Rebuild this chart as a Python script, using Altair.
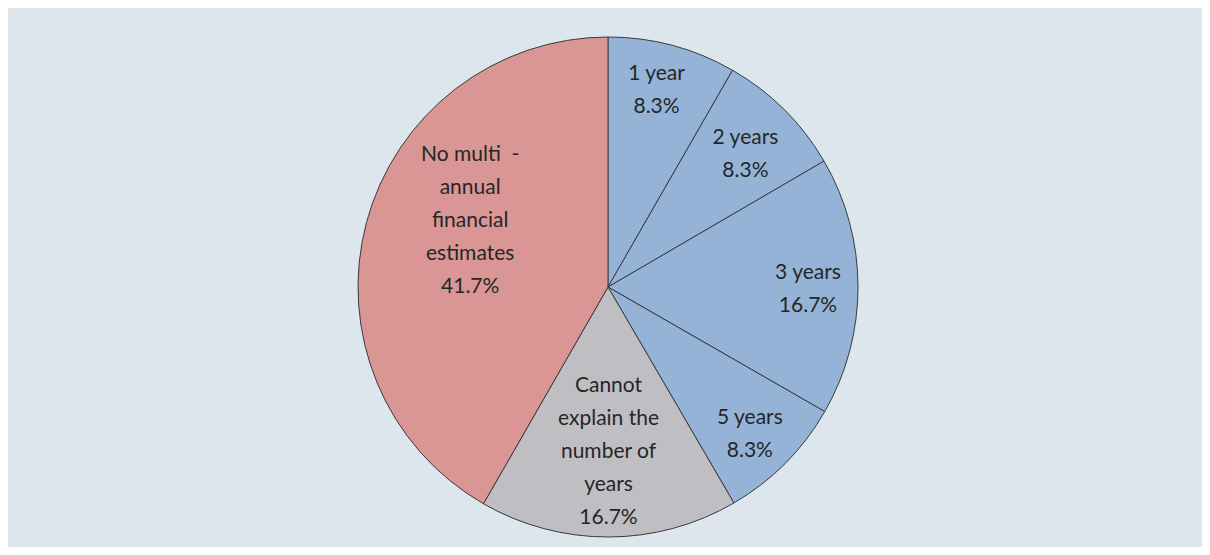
import altair as alt
import pandas as pd

categories = ["1 year", "2 years", "3 years", "5 years",
              "Cannot explain the number of years",
              "No multi-annual financial estimates"]
values = [8.3, 8.3, 16.7, 8.3, 16.7, 41.7]
labels = ["1 year\n8.3%", "2 years\n8.3%", "3 years\n16.7%", "5 years\n8.3%",
          "Cannot\nexplain the\nnumber of\nyears\n16.7%",
          "No multi\u00a0 -\nannual\nfinancial\nestimates\n41.7%"]
colors = ["#95b3d7", "#95b3d7", "#95b3d7", "#95b3d7", "#bfbfc3", "#d99694"]

df = pd.DataFrame({"category": categories, "value": values,
                   "label": labels, "order": list(range(len(categories)))})

CX, CY = 600, 279
LH = 33
tscale = alt.Scale(domain=[0, 100])

base = alt.Chart(df).transform_stack(
    stack="value", as_=["s0", "s1"], groupby=[],
    sort=[alt.SortField("order", order="ascending")],
).transform_calculate(mid="(datum.s0 + datum.s1) / 2")

pie = base.mark_arc(radius=250, stroke="#3a3a3a", strokeWidth=1).encode(
    theta=alt.Theta("s0:Q", scale=tscale, stack=None),
    theta2="s1:Q",
    x=alt.value(CX), y=alt.value(CY),
    color=alt.Color("category:N", scale=alt.Scale(domain=categories, range=colors),
                    legend=None),
)

txt_style = dict(font="Lato", fontSize=21, color="#262626", lineBreak="\n",
                 lineHeight=LH, align="center", baseline="middle")

def text_layer(cat, radius, nlines, dx=0, dy=0):
    return base.transform_filter(
        alt.FieldEqualPredicate(field="category", equal=cat)
    ).mark_text(radius=radius, dx=dx, dy=dy - (nlines - 1) / 2 * LH,
                **txt_style).encode(
        theta=alt.Theta("mid:Q", scale=tscale, stack=None),
        x=alt.value(CX), y=alt.value(CY), text="label:N",
    )

layers = [
    pie,
    text_layer(categories[0], 200, 2, dx=-3, dy=-3),
    text_layer(categories[1], 195, 2, dy=6),
    text_layer(categories[2], 200, 2, dy=3),
    text_layer(categories[3], 200, 2, dy=7),
    text_layer(categories[4], 164, 5, dy=1),
    text_layer(categories[5], 153, 5, dx=10, dy=-27),
]

chart = alt.layer(*layers).properties(
    width=1194, height=539, padding=0,
    autosize=alt.AutoSizeParams(type="fit", contains="padding"),
).configure(background="#dee6ed").configure_view(stroke=None)

chart.save("out.html", embed_options={"renderer": "svg", "actions": False})
